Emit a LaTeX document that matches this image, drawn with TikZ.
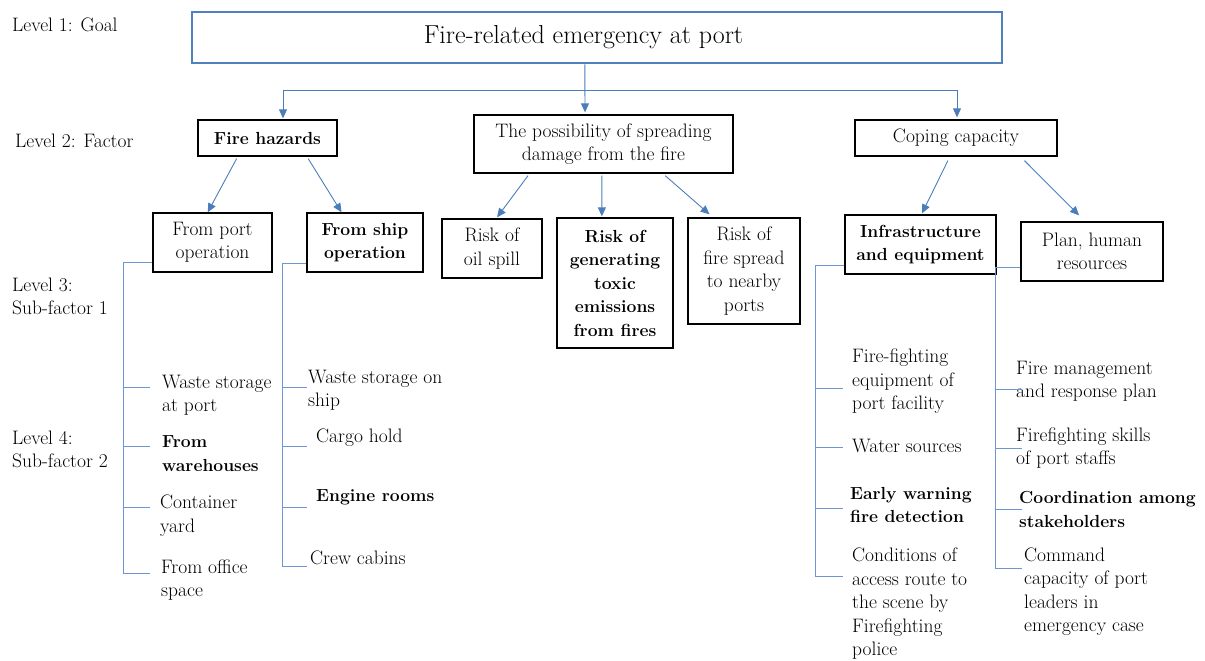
\documentclass[tikz,border=0pt]{standalone}
\usetikzlibrary{arrows.meta,calc}
\definecolor{goalblue}{RGB}{79,129,189}
\definecolor{arrowblue}{RGB}{74,126,187}
\definecolor{treeblue}{RGB}{110,150,210}
% bold lines are set a little smaller so their width stays close to the regular text
\newcommand\bfline[1]{{\fontsize{17.5}{23.5}\selectfont\bfseries #1}}
\begin{document}
\begin{tikzpicture}[x=1pt,y=-1pt,
  every node/.style={font=\fontsize{19.5}{23.5}\selectfont},
  box/.style={draw=black,line width=1.3pt,inner sep=0pt,align=center},
  goalbox/.style={draw=goalblue,line width=2.6pt,inner sep=0pt,font=\fontsize{26}{30}\selectfont},
  leaf/.style={anchor=west,inner sep=0pt,align=left},
  lvl/.style={anchor=west,inner sep=0pt,align=left},
  arr/.style={draw=arrowblue,line width=0.9pt,-{Triangle[length=9pt,width=8pt]}},
  bus/.style={draw=arrowblue,line width=0.9pt},
  branch/.style={draw=treeblue,line width=1pt}]
\useasboundingbox (0,0) rectangle (1205,661);

% level labels
\node[lvl] (l1) at (12,25) {Level 1: Goal};
\node[lvl] (l2) at (15,141) {Level 2: Factor};
\node[lvl] (l3) at (12,296.5) {Level 3:\\Sub-factor 1};
\node[lvl] (l4) at (12,449.5) {Level 4:\\Sub-factor 2};

% goal
\node[goalbox,minimum width=810pt,minimum height=51pt] (goal) at (597,37.5) {Fire-related emergency at port\hspace*{27pt}};

% factors
\node[box,minimum width=139pt,minimum height=36pt] (fh) at (267.5,138) {\bfline{Fire hazards}};
\node[box,minimum width=259pt,minimum height=58pt] (poss) at (603.5,144) {The possibility of spreading\\damage from the fire};
\node[box,minimum width=202pt,minimum height=36pt] (cop) at (956,138) {Coping capacity};

% sub-factors 1
\node[box,minimum width=119pt,minimum height=59pt] (port) at (212.5,242.5) {From port\\operation};
\node[box,minimum width=116pt,minimum height=59pt] (ship) at (365,242.5) {\bfline{From ship}\\\bfline{operation}};
\node[box,minimum width=100pt,minimum height=59pt] (oil) at (492,248.5) {Risk of\\oil spill};
\node[box,minimum width=116pt,minimum height=130pt] (toxic) at (615,283) {\bfline{Risk of}\\\bfline{generating}\\\bfline{toxic}\\\bfline{emissions}\\\bfline{from fires}};
\node[box,minimum width=112pt,minimum height=106pt] (spread) at (744,271) {Risk of\\fire spread\\to nearby\\ports};
\node[box,minimum width=151pt,minimum height=59pt] (infra) at (920.5,244.5) {\bfline{Infrastructure}\\\bfline{and equipment}};
\node[box,minimum width=142pt,minimum height=59pt] (plan) at (1092,251.5) {Plan, human\\resources};

% goal to factors
\coordinate (busL) at (283,90);
\coordinate (busR) at (957,90);
\draw[bus] (busL) -- (busR);
\draw[arr,shorten >=2pt] ($(goal.south west)!0.485!(goal.south east)$) -- ($(poss.north west)!0.429!(poss.north east)$);
\draw[arr,shorten >=1pt] (busL) -- (fh.north -| busL);
\draw[arr,shorten >=2pt] (busR) -- (cop.north -| busR);

% factors to sub-factors
\draw[arr] ($(fh.south west)!0.28!(fh.south east)+(0,2)$) -- ($(port.north west)!0.46!(port.north east)$);
\draw[arr] ($(fh.south west)!0.79!(fh.south east)+(0,2)$) -- ($(ship.north west)!0.30!(ship.north east)$);
\draw[arr] ($(poss.south west)!0.21!(poss.south east)+(0,2)$) -- ($(oil.north west)!0.55!(oil.north east)+(0,-1)$);
\draw[arr] ($(poss.south west)!0.494!(poss.south east)+(0,2)$) -- ($(toxic.north west)!0.388!(toxic.north east)+(0,-1)$);
\draw[arr] ($(poss.south west)!0.737!(poss.south east)+(0,2)$) -- ($(spread.north west)!0.196!(spread.north east)+(0,-3)$);
\draw[arr] ($(cop.south west)!0.46!(cop.south east)+(0,4)$) -- ($(infra.north west)!0.51!(infra.north east)+(0,-1)$);
\draw[arr] ($(cop.south west)!0.837!(cop.south east)+(0,4)$) -- ($(plan.north west)!0.41!(plan.north east)+(0,-6)$);

% sub-factors 2: port operation
\node[leaf] (a1t) at (162,395) {Waste storage\\at port};
\node[leaf] (a2t) at (162,453.5) {\bfline{From}\\\bfline{warehouses}};
\node[leaf] (a3t) at (160,515.5) {Container\\yard};
\node[leaf] (a4t) at (161,580) {From office\\space};
\coordinate (aend) at (123,573);
\coordinate (a1) at (150,387);
\coordinate (a2) at (150,446);
\coordinate (a3) at (150,507);
\coordinate (a4) at (150,573);
\draw[branch] ($(port.south west)+(0,-10)$) -| (aend);
\foreach \p in {a1,a2,a3,a4} \draw[branch] (\p -| aend) -- (\p);

% sub-factors 2: ship operation
\node[leaf] (b1t) at (308,390) {Waste storage on\\ship};
\node[leaf] (b2t) at (316,438) {Cargo hold};
\node[leaf] (b3t) at (316,497) {\bfline{Engine rooms}};
\node[leaf] (b4t) at (310,558) {Crew cabins};
\coordinate (bend) at (282,566);
\coordinate (b1) at (307,387);
\coordinate (b2) at (307,446);
\coordinate (b3) at (307,507);
\coordinate (b4) at (307,566);
\draw[branch] ($(ship.south west)+(0,-9)$) -| (bend);
\foreach \p in {b1,b2,b3,b4} \draw[branch] (\p -| bend) -- (\p);

% sub-factors 2: infrastructure and equipment
\node[leaf] (c1t) at (852,381.5) {Fire-fighting\\equipment of\\port facility};
\node[leaf] (c2t) at (852,446) {Water sources};
\node[leaf] (c3t) at (850,505) {\bfline{Early warning}\\\bfline{fire detection}};
\node[leaf] (c4t) at (852,604) {Conditions of\\access route to\\the scene by\\Firefighting\\police};
\coordinate (cend) at (815,576);
\coordinate (c1) at (843,388);
\coordinate (c2) at (843,447);
\coordinate (c3) at (843,508);
\coordinate (c4) at (843,576);
\draw[branch] ($(infra.south west)+(0,-9)$) -| (cend);
\foreach \p in {c1,c2,c3,c4} \draw[branch] (\p -| cend) -- (\p);

% sub-factors 2: plan, human resources
\node[leaf] (d1t) at (1016,381.5) {Fire management\\and response plan};
\node[leaf] (d2t) at (1016,448) {Firefighting skills\\of port staffs};
\node[leaf] (d3t) at (1019,509.5) {\bfline{Coordination among}\\\bfline{stakeholders}};
\node[leaf] (d4t) at (1024,591.7) {Command\\capacity of port\\leaders in\\emergency case};
\coordinate (dend) at (995,568);
\coordinate (d1) at (1022,389);
\coordinate (d2) at (1022,448);
\coordinate (d3) at (1022,509);
\coordinate (d4) at (1022,568);
\draw[branch] ($(plan.south west)+(0,-14)$) -| (dend);
\foreach \p in {d1,d2,d3,d4} \draw[branch] (\p -| dend) -- (\p);
\end{tikzpicture}
\end{document}
